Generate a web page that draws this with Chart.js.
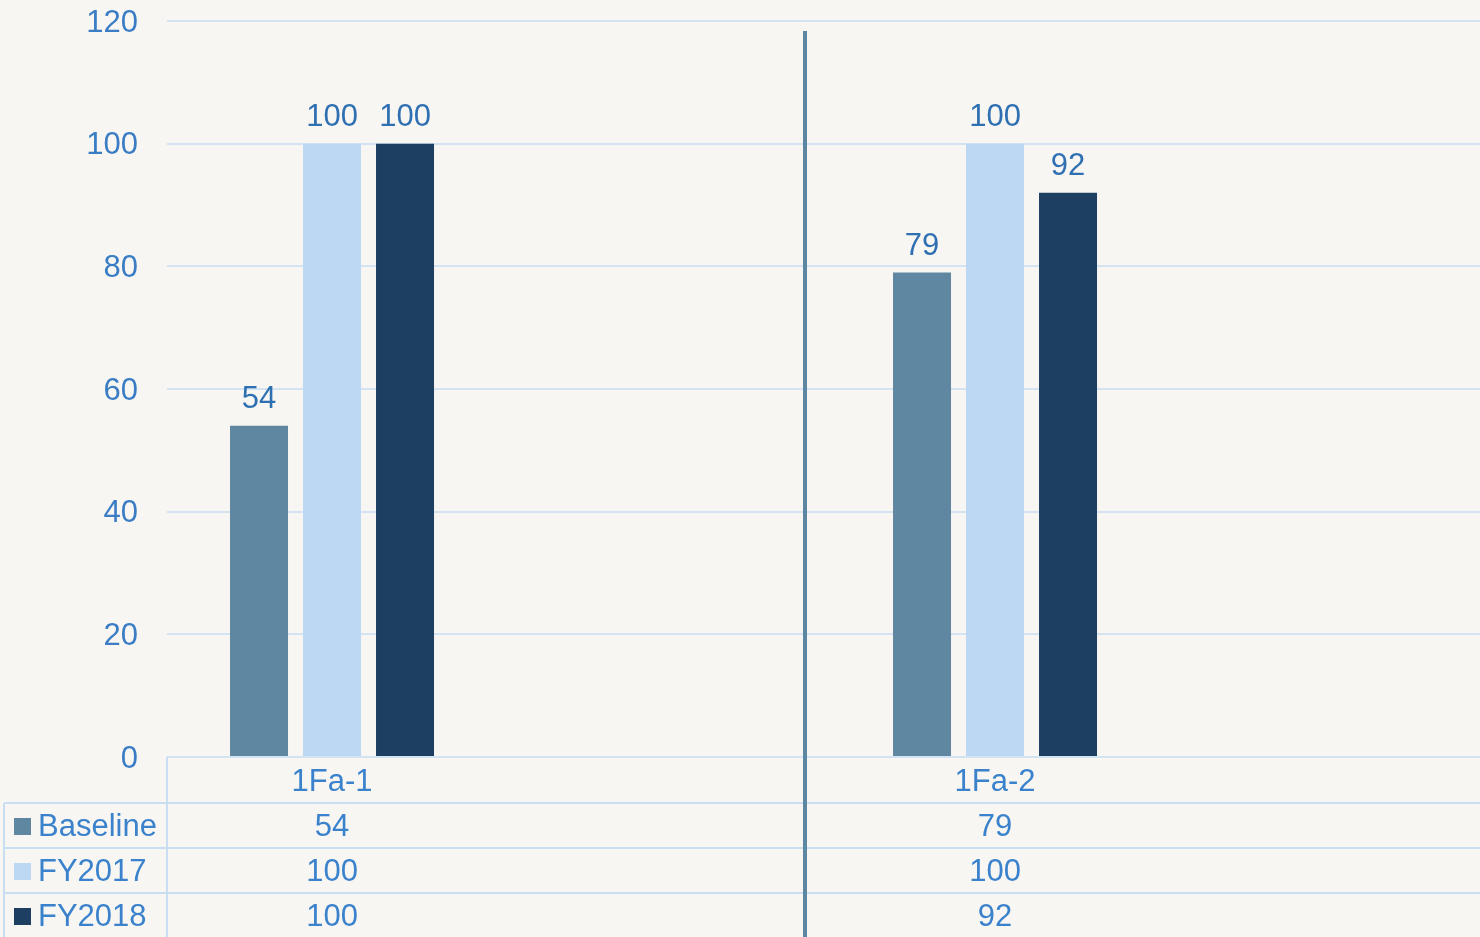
<!DOCTYPE html>
<html><head><meta charset="utf-8">
<script src="https://cdn.jsdelivr.net/npm/chart.js@4"></script>
<style>html,body{margin:0;padding:0;background:#f8f6f3;overflow:hidden} #wrap{width:1480px;height:937px;position:relative}</style>
</head><body><div id="wrap"><canvas id="c"></canvas></div>
<script>
const categories = ['1Fa-1', '1Fa-2'];
const seriesNames = ['Baseline', 'FY2017', 'FY2018'];
const baseline = [54, 79];
const fy2017 = [100, 100];
const fy2018 = [100, 92];
const yTicks = [0, 20, 40, 60, 80, 100, 120];

const colors = ['#5f87a1', '#bdd8f2', '#1d3f62'];
const FONT = '"Liberation Sans", Arial, sans-serif';
const FS = 31;
const seriesValues = [baseline, fy2017, fy2018];

const datasets = seriesNames.map((n, si) => ({
  label: n,
  data: seriesValues[si].map((v, i) => ({ x: i, y: v })),
  backgroundColor: colors[si],
  borderWidth: 0,
  categoryPercentage: 0.3303,
  barPercentage: 0.7945
}));

const tablePlugin = {
  id: 'tablePlugin',
  beforeDraw(chart) {
    const ctx = chart.ctx;
    ctx.save();
    ctx.fillStyle = '#f8f6f3';
    ctx.fillRect(0, 0, chart.width, chart.height);
    ctx.restore();
  },
  afterDatasetsDraw(chart) {
    const ctx = chart.ctx, xs = chart.scales.x, area = chart.chartArea;
    ctx.save();
    // value labels above bars
    ctx.font = FS + 'px ' + FONT;
    ctx.fillStyle = '#2f70b2';
    ctx.textAlign = 'center';
    ctx.textBaseline = 'middle';
    chart.data.datasets.forEach((ds, di) => {
      const meta = chart.getDatasetMeta(di);
      meta.data.forEach((bar, i) => {
        ctx.fillText(String(ds.data[i].y), bar.x, bar.y - 26);
      });
    });

    // data table
    const top = area.bottom;
    const rowTops = [top, top + 46, top + 91, top + 136];
    const rowH = 45;
    const left = 4;
    ctx.strokeStyle = '#c9def2';
    ctx.lineWidth = 2;
    ctx.beginPath();
    for (let r = 1; r < rowTops.length; r++) {
      ctx.moveTo(left, rowTops[r]); ctx.lineTo(chart.width, rowTops[r]);
    }
    ctx.moveTo(area.left, top); ctx.lineTo(area.left, chart.height);
    ctx.moveTo(left, rowTops[1]); ctx.lineTo(left, chart.height);
    ctx.stroke();

    ctx.fillStyle = '#3b82cc';
    ctx.textAlign = 'center';
    categories.forEach((c, i) => {
      ctx.fillText(c, xs.getPixelForValue(i), rowTops[0] + 25);
    });
    seriesNames.forEach((n, si) => {
      const cy = rowTops[si + 1] + rowH / 2 + 1.5;
      seriesValues[si].forEach((v, i) => {
        ctx.fillStyle = '#3b82cc';
        ctx.textAlign = 'center';
        ctx.fillText(String(v), xs.getPixelForValue(i), cy);
      });
      ctx.fillStyle = colors[si];
      ctx.fillRect(14, cy - 9, 17, 17);
      ctx.fillStyle = '#3b82cc';
      ctx.textAlign = 'left';
      ctx.fillText(n, 38, cy);
    });

    // separator line between categories
    const sx = xs.getPixelForValue(0.7134);
    ctx.strokeStyle = '#5d86a2';
    ctx.lineWidth = 4;
    ctx.beginPath();
    ctx.moveTo(sx, area.top + 10);
    ctx.lineTo(sx, chart.height);
    ctx.stroke();
    ctx.restore();
  }
};

new Chart(document.getElementById('c'), {
  type: 'bar',
  data: { datasets },
  options: {
    responsive: true,
    maintainAspectRatio: false,
    animation: false,
    layout: { padding: { top: 21, right: 0, bottom: 180, left: 0 } },
    plugins: { legend: { display: false }, tooltip: { enabled: false } },
    scales: {
      x: {
        type: 'linear',
        min: -0.2489,
        max: 1.7315,
        offset: false,
        bounds: 'data',
        display: false,
        afterBuildTicks(s) { s.ticks = categories.map((c, i) => ({ value: i })); }
      },
      y: {
        min: 0, max: 120,
        afterFit(s) { s.width = 167; s.paddingTop = 0; s.paddingBottom = 0; },
        afterBuildTicks(s) { s.ticks = yTicks.map(v => ({ value: v })); },
        border: { display: false },
        grid: { color: '#d3e3f2', lineWidth: 2, drawTicks: false },
        ticks: { padding: 29, labelOffset: 2, color: '#3a7dc5', font: { family: FONT, size: FS } }
      }
    }
  },
  plugins: [tablePlugin]
});
</script>
</body></html>
